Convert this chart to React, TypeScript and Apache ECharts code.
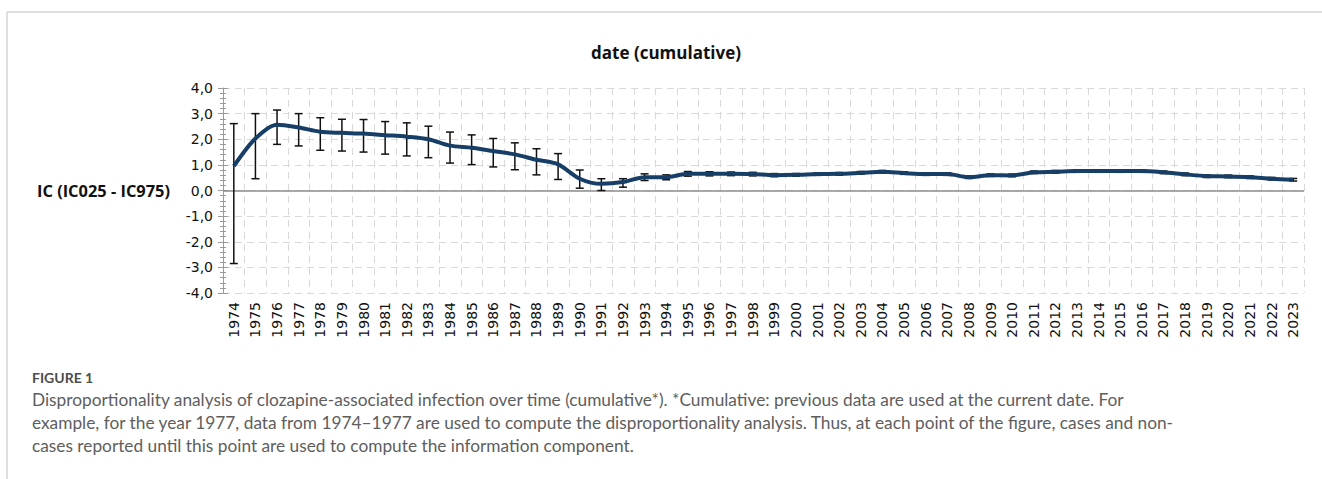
import React, { useEffect, useRef } from "react";
import * as echarts from "echarts";

const years = [
  "1974", "1975", "1976", "1977", "1978", "1979", "1980", "1981", "1982", "1983",
  "1984", "1985", "1986", "1987", "1988", "1989", "1990", "1991", "1992", "1993",
  "1994", "1995", "1996", "1997", "1998", "1999", "2000", "2001", "2002", "2003",
  "2004", "2005", "2006", "2007", "2008", "2009", "2010", "2011", "2012", "2013",
  "2014", "2015", "2016", "2017", "2018", "2019", "2020", "2021", "2022", "2023",
];

const ic = [
  0.95, 2.03, 2.57, 2.46, 2.29, 2.25, 2.22, 2.16, 2.1, 2.0,
  1.75, 1.67, 1.54, 1.41, 1.2, 1.02, 0.46, 0.26, 0.33, 0.52,
  0.52, 0.65, 0.65, 0.65, 0.64, 0.6, 0.61, 0.64, 0.65, 0.69,
  0.73, 0.68, 0.64, 0.64, 0.52, 0.6, 0.59, 0.71, 0.73, 0.76,
  0.76, 0.76, 0.76, 0.71, 0.63, 0.56, 0.55, 0.52, 0.46, 0.42,
];

const ic025 = [
  -2.85, 0.46, 1.8, 1.74, 1.57, 1.54, 1.5, 1.42, 1.35, 1.28,
  1.07, 1.01, 0.92, 0.81, 0.61, 0.43, 0.09, 0.0, 0.13, 0.39,
  0.42, 0.56, 0.57, 0.58, 0.57, 0.54, 0.56, 0.59, 0.6, 0.64,
  0.68, 0.63, 0.59, 0.59, 0.47, 0.55, 0.54, 0.66, 0.68, 0.71,
  0.71, 0.71, 0.71, 0.66, 0.58, 0.51, 0.5, 0.47, 0.41, 0.37,
];

const ic975 = [
  2.61, 3.0, 3.14, 3.0, 2.84, 2.78, 2.77, 2.69, 2.64, 2.51,
  2.28, 2.17, 2.03, 1.86, 1.63, 1.44, 0.8, 0.46, 0.46, 0.65,
  0.61, 0.74, 0.73, 0.72, 0.71, 0.66, 0.66, 0.69, 0.7, 0.74,
  0.78, 0.73, 0.69, 0.69, 0.57, 0.65, 0.64, 0.76, 0.78, 0.81,
  0.81, 0.81, 0.81, 0.76, 0.68, 0.61, 0.6, 0.57, 0.51, 0.47,
];

const yTicks = { min: -4, max: 4, interval: 1 };

const titleText = "date (cumulative)";
const yAxisTitle = "IC (IC025 - IC975)";
const figureLabel = "FIGURE 1";
const captionLines = [
  "Disproportionality analysis of clozapine-associated infection over time (cumulative*). *Cumulative: previous data are used at the current date. For",
  "example, for the year 1977, data from 1974\u20131977 are used to compute the disproportionality analysis. Thus, at each point of the figure, cases and non-",
  "cases reported until this point are used to compute the information component.",
];

export default function App() {
  const ref = useRef<HTMLDivElement>(null);

  useEffect(() => {
    if (!ref.current) return;
    const chart = echarts.init(ref.current, null, { renderer: "svg" });
    const gridColor = "#d9d9d9";
    const axisGray = "#9a9a9a";
    const fmt = (v: number) => v.toFixed(1).replace(".", ",");

    const option: any = {
      animation: false,
      backgroundColor: "#ffffff",
      grid: { left: 223, right: 18, top: 88, bottom: 186, containLabel: false },
      xAxis: {
        type: "category",
        data: years,
        boundaryGap: true,
        axisLine: { show: false },
        axisTick: { show: false },
        axisLabel: {
          rotate: 90,
          interval: 0,
          margin: 9,
          fontSize: 14,
          color: "#111",
          fontFamily: "DejaVu Sans",
        },
        splitLine: {
          show: true,
          interval: 0,
          lineStyle: { color: gridColor, type: [7, 5], width: 1 },
        },
      },
      yAxis: [
        {
          type: "value",
          min: yTicks.min,
          max: yTicks.max,
          interval: yTicks.interval,
          position: "left",
          axisLine: { show: true, lineStyle: { color: axisGray, width: 1 } },
          axisTick: { show: true, length: 5, lineStyle: { color: axisGray } },
          minorTick: { show: true, splitNumber: 5, length: 3, lineStyle: { color: axisGray } },
          axisLabel: {
            formatter: fmt,
            fontSize: 14,
            color: "#111",
            margin: 10,
            fontFamily: "DejaVu Sans",
          },
          splitLine: {
            show: true,
            lineStyle: { color: gridColor, type: [7, 5], width: 1 },
          },
        },
        {
          type: "value",
          min: yTicks.min,
          max: yTicks.max,
          interval: yTicks.interval,
          position: "left",
          axisLine: { show: false },
          axisTick: { show: true, inside: true, length: 5, lineStyle: { color: axisGray } },
          minorTick: { show: true, splitNumber: 5, length: 3, lineStyle: { color: axisGray } },
          axisLabel: { show: false },
          splitLine: { show: false },
        },
      ],
      series: [
        {
          type: "custom",
          name: "CI",
          z: 2,
          renderItem: (params: any, api: any) => {
            const x = api.value(0);
            const lo = api.value(1);
            const hi = api.value(2);
            const pLo = api.coord([x, lo]);
            const pHi = api.coord([x, hi]);
            const half = 4;
            const style = { stroke: "#111", lineWidth: 1.5 };
            return {
              type: "group",
              children: [
                { type: "line", shape: { x1: pLo[0], y1: pLo[1], x2: pHi[0], y2: pHi[1] }, style },
                { type: "line", shape: { x1: pLo[0] - half, y1: pLo[1], x2: pLo[0] + half, y2: pLo[1] }, style },
                { type: "line", shape: { x1: pHi[0] - half, y1: pHi[1], x2: pHi[0] + half, y2: pHi[1] }, style },
              ],
            };
          },
          encode: { x: 0, y: [1, 2] },
          data: years.map((_, i) => [i, ic025[i], ic975[i]]),
        },
        {
          type: "line",
          name: "IC",
          z: 3,
          data: ic,
          smooth: 0.3,
          symbol: "none",
          lineStyle: { color: "#173e66", width: 4 },
          markLine: {
            silent: true,
            symbol: "none",
            label: { show: false },
            lineStyle: { color: "#8c8c8c", type: "solid", width: 1.5 },
            data: [{ yAxis: 0 }],
            z: 1,
          },
        },
      ],
      graphic: [
        { type: "line", shape: { x1: 7, y1: 12, x2: 1322, y2: 12 }, style: { stroke: "#d4d4d4", lineWidth: 1.5 } },
        { type: "line", shape: { x1: 7, y1: 12, x2: 7, y2: 479 }, style: { stroke: "#d4d4d4", lineWidth: 1.5 } },
        {
          type: "text",
          x: 666,
          y: 52,
          style: {
            text: titleText,
            align: "center",
            verticalAlign: "middle",
            font: "bold 17px 'Open Sans'",
            fill: "#111",
          },
        },
        {
          type: "text",
          x: 170,
          y: 190,
          style: {
            text: yAxisTitle,
            align: "right",
            verticalAlign: "middle",
            font: "bold 16.4px 'Open Sans'",
            fill: "#111",
          },
        },
        {
          type: "text",
          x: 32,
          y: 377,
          style: {
            text: figureLabel,
            align: "left",
            verticalAlign: "middle",
            font: "bold 14px Lato",
            fill: "#4d4d4d",
          },
        },
        ...captionLines.map((t, i) => ({
          type: "text",
          x: 32,
          y: 399 + i * 23,
          style: {
            text: t,
            align: "left",
            verticalAlign: "middle",
            font: "17.3px Lato",
            fill: "#5e5e5e",
          },
        })),
      ],
    };

    chart.setOption(option);
    return () => chart.dispose();
  }, []);

  return (
    <div
      ref={ref}
      style={{ position: "fixed", left: 0, top: 0, width: 1322, height: 479 }}
    />
  );
}
